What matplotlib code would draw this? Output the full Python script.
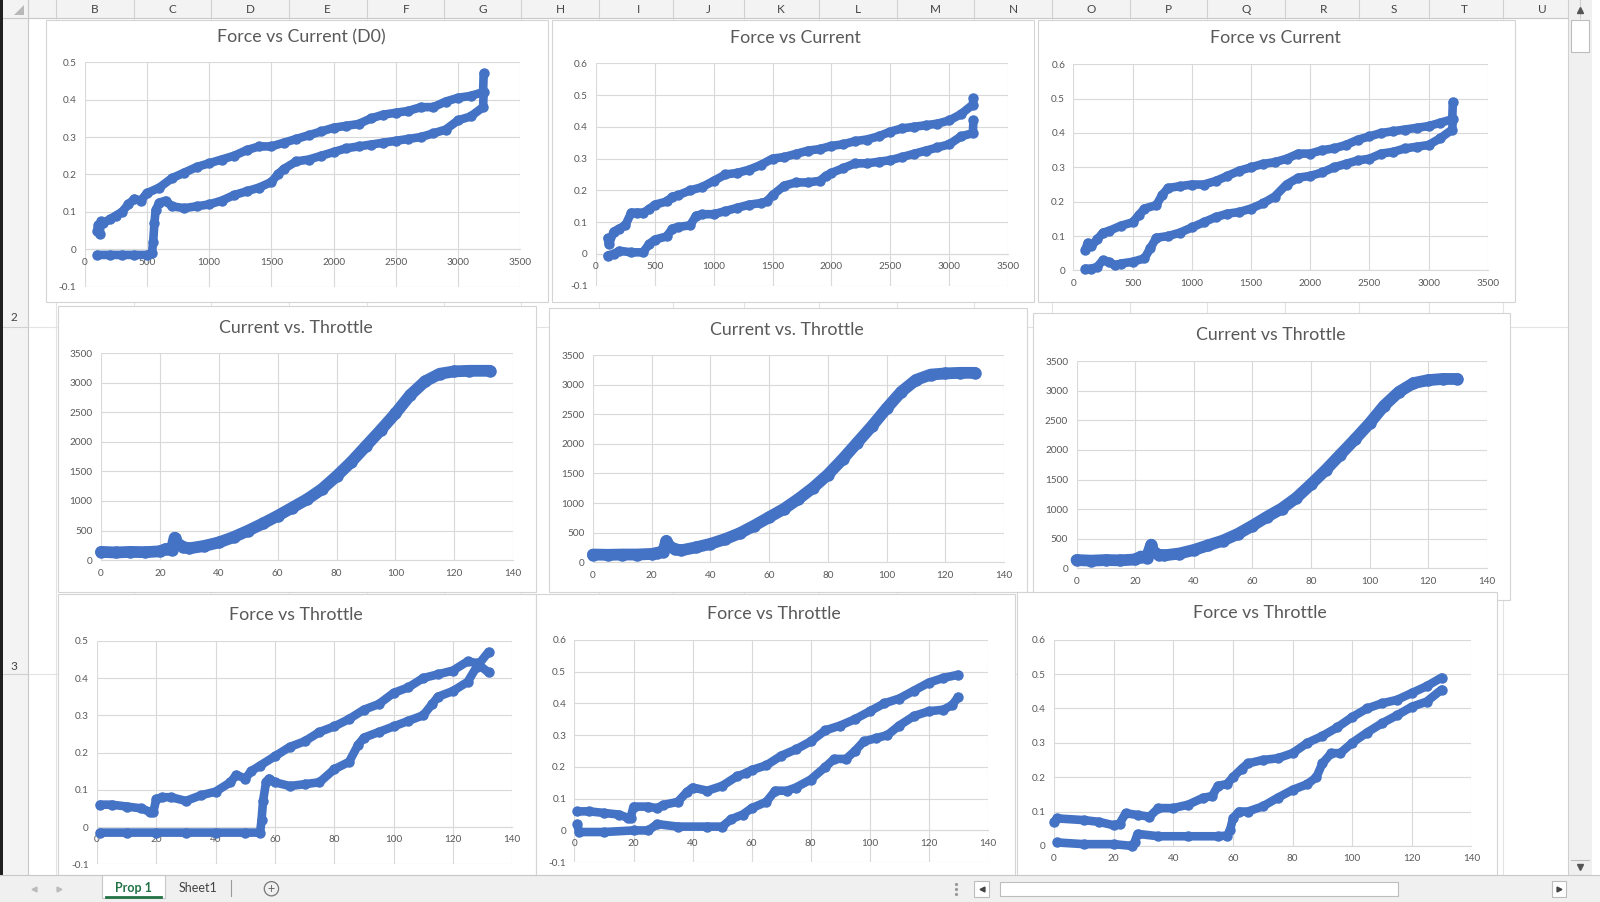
import numpy as np
import matplotlib.pyplot as plt
from matplotlib.patches import Rectangle, Circle, Polygon

plt.rcParams['font.family'] = ['Lato', 'DejaVu Sans']

# screen size; everything below is placed in this frame
W, H = 1568, 884

# ---- Force vs Current (D0) ----
fc1_up_x = [100, 110, 120, 130, 150, 200, 250, 300, 350, 400, 450, 500, 600, 700, 800, 900, 1000, 1100, 1200, 1300,
            1400, 1500, 1600, 1700, 1800, 1900, 2000, 2100, 2200, 2300, 2400, 2500, 2600, 2700, 2800, 2900, 3000, 3100,
            3200, 3205]
fc1_up_y = [0.05, 0.065, 0.04, 0.075, 0.07, 0.08, 0.09, 0.1, 0.12, 0.135, 0.13, 0.15, 0.165, 0.19, 0.205, 0.22, 0.23,
            0.24, 0.25, 0.265, 0.275, 0.275, 0.285, 0.295, 0.305, 0.315, 0.325, 0.33, 0.335, 0.35, 0.36, 0.365, 0.37,
            0.38, 0.38, 0.395, 0.405, 0.41, 0.42, 0.47]
fc1_lo_x = [100, 200, 300, 400, 500, 540, 550, 560, 570, 600, 650, 700, 800, 900, 1000, 1100, 1200, 1300, 1400, 1500,
            1550, 1600, 1700, 1800, 1900, 2000, 2100, 2200, 2300, 2400, 2500, 2600, 2700, 2800, 2900, 3000, 3100, 3200,
            3205]
fc1_lo_y = [-0.015, -0.015, -0.015, -0.015, -0.015, -0.01, 0.02, 0.07, 0.105, 0.125, 0.13, 0.115, 0.11, 0.115, 0.12,
            0.13, 0.145, 0.155, 0.165, 0.18, 0.2, 0.215, 0.235, 0.24, 0.25, 0.26, 0.27, 0.275, 0.28, 0.285, 0.29, 0.295,
            0.3, 0.31, 0.32, 0.345, 0.355, 0.38, 0.42]

# ---- Force vs Current (middle) ----
fc2_up_x = [100, 110, 150, 200, 250, 300, 350, 400, 450, 500, 600, 650, 700, 800, 900, 1000, 1100, 1200, 1300, 1400,
            1500, 1600, 1700, 1800, 1900, 2000, 2100, 2200, 2300, 2400, 2500, 2600, 2700, 2800, 2900, 3000, 3100, 3200,
            3205]
fc2_up_y = [0.05, 0.03, 0.07, 0.08, 0.09, 0.13, 0.13, 0.13, 0.14, 0.155, 0.165, 0.18, 0.185, 0.2, 0.21, 0.23, 0.25,
            0.255, 0.265, 0.28, 0.3, 0.305, 0.315, 0.325, 0.33, 0.34, 0.345, 0.355, 0.36, 0.37, 0.385, 0.395, 0.4,
            0.405, 0.41, 0.42, 0.44, 0.47, 0.49]
fc2_lo_x = [100, 150, 200, 300, 400, 450, 500, 600, 650, 700, 800, 850, 900, 1000, 1100, 1200, 1300, 1400, 1450, 1500,
            1600, 1700, 1800, 1900, 1950, 2000, 2100, 2200, 2300, 2400, 2500, 2600, 2700, 2800, 2900, 3000, 3100, 3200,
            3205]
fc2_lo_y = [-0.005, 0.0, 0.01, 0.005, 0.005, 0.03, 0.045, 0.055, 0.08, 0.085, 0.09, 0.12, 0.125, 0.125, 0.135, 0.145,
            0.155, 0.16, 0.165, 0.185, 0.215, 0.225, 0.225, 0.23, 0.245, 0.255, 0.27, 0.285, 0.285, 0.29, 0.295, 0.305,
            0.315, 0.325, 0.335, 0.345, 0.37, 0.38, 0.42]

# ---- Force vs Current (right) ----
fc3_up_x = [100, 120, 150, 200, 250, 300, 400, 500, 550, 600, 700, 750, 800, 900, 1000, 1100, 1200, 1300, 1400, 1500,
            1600, 1700, 1800, 1900, 2000, 2100, 2200, 2300, 2400, 2500, 2600, 2700, 2800, 2900, 3000, 3100, 3200, 3205]
fc3_up_y = [0.06, 0.08, 0.07, 0.09, 0.11, 0.115, 0.13, 0.14, 0.16, 0.18, 0.19, 0.22, 0.24, 0.245, 0.25, 0.25, 0.26,
            0.275, 0.29, 0.3, 0.31, 0.315, 0.325, 0.34, 0.34, 0.35, 0.355, 0.365, 0.38, 0.39, 0.4, 0.405, 0.41, 0.415,
            0.42, 0.43, 0.44, 0.49]
fc3_lo_x = [100, 150, 200, 250, 300, 350, 400, 500, 600, 650, 700, 800, 900, 1000, 1100, 1200, 1300, 1400, 1500, 1600,
            1700, 1800, 1900, 2000, 2100, 2200, 2300, 2400, 2500, 2600, 2700, 2800, 2900, 3000, 3100, 3200, 3205]
fc3_lo_y = [0.005, 0.005, 0.01, 0.03, 0.025, 0.015, 0.02, 0.025, 0.035, 0.065, 0.095, 0.1, 0.11, 0.125, 0.14, 0.155,
            0.165, 0.17, 0.18, 0.195, 0.215, 0.25, 0.27, 0.275, 0.285, 0.3, 0.31, 0.32, 0.325, 0.34, 0.345, 0.355, 0.36,
            0.365, 0.385, 0.41, 0.44]

# ---- Current vs Throttle ----
ct1_x = [0, 5, 10, 15, 20, 22, 24, 25, 26, 28, 30, 35, 40, 45, 50, 55, 60, 65, 70, 75, 80, 85, 90, 95, 100, 105, 110,
         115, 120, 125, 132]
ct1_y = [140, 130, 140, 135, 150, 190, 170, 380, 280, 220, 200, 240, 300, 390, 500, 620, 750, 890, 1030, 1200, 1420,
         1660, 1930, 2200, 2480, 2790, 3020, 3150, 3190, 3200, 3200]
ct2_x = [0, 5, 10, 15, 20, 22, 24, 25, 26, 28, 30, 35, 40, 45, 50, 55, 60, 65, 70, 75, 80, 85, 90, 95, 100, 105, 110,
         115, 120, 125, 130]
ct2_y = [130, 125, 130, 130, 140, 160, 180, 360, 270, 220, 200, 250, 310, 390, 490, 620, 760, 900, 1070, 1260, 1480,
         1740, 2020, 2300, 2600, 2880, 3080, 3170, 3190, 3200, 3200]
ct3_x = [0, 5, 10, 15, 20, 22, 24, 25.5, 26, 28, 30, 35, 40, 45, 50, 55, 60, 65, 70, 75, 80, 85, 90, 95, 100, 105, 110,
         115, 120, 125, 130]
ct3_y = [140, 130, 140, 135, 150, 200, 180, 400, 290, 230, 220, 250, 310, 390, 470, 580, 720, 870, 1010, 1190, 1420,
         1660, 1920, 2180, 2450, 2750, 2980, 3130, 3180, 3200, 3200]

# ---- Force vs Throttle ----
ft1_up_x = [1, 5, 10, 15, 18, 19, 20, 22, 25, 30, 35, 40, 45, 47, 50, 52, 55, 60, 65, 70, 75, 80, 85, 90, 95, 100, 105,
            110, 115, 120, 125, 128, 132]
ft1_up_y = [0.06, 0.06, 0.055, 0.05, 0.04, 0.04, 0.075, 0.08, 0.08, 0.07, 0.085, 0.095, 0.12, 0.14, 0.13, 0.15, 0.165,
            0.19, 0.215, 0.23, 0.255, 0.27, 0.29, 0.315, 0.33, 0.36, 0.375, 0.4, 0.41, 0.42, 0.445, 0.44, 0.415]
ft1_lo_x = [1, 10, 20, 30, 40, 50, 55, 55.5, 56, 57, 58, 60, 65, 70, 75, 80, 85, 88, 90, 95, 100, 105, 110, 113, 115,
            120, 125, 128, 132]
ft1_lo_y = [-0.015, -0.015, -0.015, -0.015, -0.015, -0.015, -0.015, 0.02, 0.07, 0.12, 0.13, 0.12, 0.11, 0.115, 0.12,
            0.155, 0.175, 0.22, 0.24, 0.255, 0.27, 0.285, 0.3, 0.33, 0.35, 0.365, 0.39, 0.43, 0.47]
ft2_up_x = [1, 5, 10, 15, 18, 19, 20, 25, 28, 30, 35, 38, 40, 45, 50, 55, 58, 60, 65, 70, 75, 80, 85, 90, 95, 100, 105,
            110, 115, 120, 125, 130]
ft2_up_y = [0.06, 0.06, 0.055, 0.05, 0.04, 0.04, 0.075, 0.075, 0.07, 0.08, 0.09, 0.12, 0.135, 0.125, 0.14, 0.17, 0.18,
            0.19, 0.205, 0.235, 0.255, 0.28, 0.315, 0.33, 0.35, 0.375, 0.4, 0.415, 0.44, 0.465, 0.48, 0.49]
ft2_lo_x = [1, 1.5, 10, 20, 25, 28, 35, 45, 50, 53, 57, 60, 65, 68, 72, 75, 80, 85, 88, 92, 95, 98, 102, 106, 110, 115,
            120, 125, 128, 130]
ft2_lo_y = [0.02, -0.005, -0.005, 0.0, 0.0, 0.02, 0.012, 0.012, 0.012, 0.035, 0.05, 0.07, 0.09, 0.125, 0.125, 0.135,
            0.16, 0.2, 0.225, 0.225, 0.25, 0.28, 0.29, 0.3, 0.33, 0.36, 0.375, 0.38, 0.395, 0.42]
ft3_up_x = [0, 1, 10, 15, 20, 22, 24, 28, 32, 35, 40, 45, 50, 53, 55, 58, 60, 63, 65, 70, 75, 80, 85, 90, 95, 100, 105,
            110, 115, 120, 125, 130]
ft3_up_y = [0.07, 0.08, 0.075, 0.07, 0.06, 0.065, 0.095, 0.09, 0.085, 0.11, 0.11, 0.12, 0.14, 0.145, 0.175, 0.18, 0.2,
            0.225, 0.24, 0.25, 0.255, 0.27, 0.3, 0.32, 0.345, 0.375, 0.4, 0.415, 0.425, 0.445, 0.465, 0.49]
ft3_lo_x = [1, 10, 20, 26, 27, 28, 35, 45, 55, 58, 59, 60, 62, 65, 70, 75, 80, 85, 88, 90, 93, 96, 100, 105, 110, 115,
            120, 125, 130]
ft3_lo_y = [0.01, 0.005, 0.005, 0.0, 0.01, 0.035, 0.028, 0.028, 0.028, 0.03, 0.045, 0.08, 0.1, 0.1, 0.115, 0.14, 0.163,
            0.18, 0.2, 0.24, 0.27, 0.27, 0.3, 0.33, 0.357, 0.38, 0.405, 0.42, 0.455]

col_letters = list('BCDEFGHIJKLMNOPQRSTU')
col_centers = [93, 169, 245, 321, 398, 473, 549, 626, 694, 765, 841, 917, 993, 1069, 1145, 1221, 1297, 1366, 1435, 1511]

BLUE = '#4472C4'
GRID = '#d9d9d9'
TXT = '#595959'

fig = plt.figure(figsize=(16, 9.02), dpi=100)
fig.patch.set_facecolor('white')
bg = fig.add_axes([0, 0, 1, 1])
bg.set_xlim(0, W)
bg.set_ylim(H, 0)
bg.axis('off')


def rect(x0, y0, x1, y1, fc, ec='none', lw=0.8, z=1):
    bg.add_patch(Rectangle((x0, y0), x1 - x0, y1 - y0, facecolor=fc, edgecolor=ec, lw=lw, zorder=z))


# sheet gridlines
bounds = [55] + [(a + b) / 2 for a, b in zip(col_centers[:-1], col_centers[1:])] + [1548]
for bx in bounds:
    bg.plot([bx, bx], [18, 858], color='#e3e3e3', lw=0.8, zorder=0.5)
for ry in [320, 661]:
    bg.plot([27, 1537], [ry, ry], color='#e3e3e3', lw=0.8, zorder=0.5)

# column header
rect(0, 0, 1537, 18, '#f3f3f3', z=2)
bg.plot([0, 1537], [18, 18], color='#c8c8c8', lw=0.8, zorder=3)
for bx in bounds:
    bg.plot([bx, bx], [0, 18], color='#d0d0d0', lw=0.8, zorder=3)
for letter, cx in zip(col_letters, col_centers):
    bg.text(cx, 9.5, letter, ha='center', va='center', fontsize=8.5, color='#444444', zorder=4)
bg.add_patch(Polygon([[24, 5], [24, 15], [14, 15]], closed=True, facecolor='#b8b8b8', edgecolor='none', zorder=4))

# row header
rect(0, 18, 27, 858, '#f3f3f3', z=2)
bg.plot([27, 27], [0, 858], color='#c8c8c8', lw=0.8, zorder=3)
for ry, lab, ly in [(320, '2', 311), (661, '3', 653)]:
    bg.plot([0, 27], [ry, ry], color='#d0d0d0', lw=0.8, zorder=3)
    bg.text(14, ly, lab, ha='center', va='center', fontsize=8.5, color='#444444', zorder=4)
rect(0, 0, 2.5, H, '#202020', z=5)

# vertical scrollbar
rect(1537, 0, 1560, 858, '#f0f0f0', z=2)
bg.plot([1537, 1537], [0, 858], color='#d0d0d0', lw=0.8, zorder=3)
rect(1540, 20, 1557, 51, 'white', ec='#bdbdbd', z=3)
bg.plot(1548.5, 10, marker='^', ms=4, color='#555555', zorder=4)
bg.plot(1548.5, 850, marker='v', ms=4, color='#555555', zorder=4)
bg.plot([1540, 1557], [843, 843], color='#bdbdbd', lw=0.8, zorder=3)

# chart layouts: (box, plot area, title position)
layout = [
    ((45, 20, 537, 296), (83, 61, 510, 281), (295, 37)),
    ((541, 20, 1013, 296), (584, 62, 988, 280), (780, 37)),
    ((1017, 20, 1485, 296), (1052, 63, 1458, 265), (1250, 37)),
    ((57, 300, 525, 580), (99, 346, 503, 549), (290, 321)),
    ((538, 302, 1006, 580), (581, 348, 984, 551), (771, 323)),
    ((1012, 307, 1480, 588), (1055, 354, 1457, 557), (1245, 328)),
    ((57, 582, 525, 858), (95, 628, 502, 847), (290, 603)),
    ((525, 582, 995, 858), (563, 627, 968, 845), (758, 602)),
    ((997, 580, 1467, 858), (1033, 627, 1442, 829), (1235, 601)),
]

charts = [
    ('Force vs Current (D0)', 3500, 500, -0.1, 0.5, 0.1, [(fc1_up_x, fc1_up_y), (fc1_lo_x, fc1_lo_y)]),
    ('Force vs Current', 3500, 500, -0.1, 0.6, 0.1, [(fc2_up_x, fc2_up_y), (fc2_lo_x, fc2_lo_y)]),
    ('Force vs Current', 3500, 500, 0, 0.6, 0.1, [(fc3_up_x, fc3_up_y), (fc3_lo_x, fc3_lo_y)]),
    ('Current vs. Throttle', 140, 20, 0, 3500, 500, [(ct1_x, ct1_y)]),
    ('Current vs. Throttle', 140, 20, 0, 3500, 500, [(ct2_x, ct2_y)]),
    ('Current vs Throttle', 140, 20, 0, 3500, 500, [(ct3_x, ct3_y)]),
    ('Force vs Throttle', 140, 20, -0.1, 0.5, 0.1, [(ft1_up_x, ft1_up_y), (ft1_lo_x, ft1_lo_y)]),
    ('Force vs Throttle', 140, 20, -0.1, 0.6, 0.1, [(ft2_up_x, ft2_up_y), (ft2_lo_x, ft2_lo_y)]),
    ('Force vs Throttle', 140, 20, 0, 0.6, 0.1, [(ft3_up_x, ft3_up_y), (ft3_lo_x, ft3_lo_y)]),
]

for (bx, pa, tpos), (title, xmax, xstep, ymin, ymax, ystep, series) in zip(layout, charts):
    rect(bx[0], bx[1], bx[2], bx[3], 'white', ec='#d4d4d4', z=6)
    bg.text(tpos[0], tpos[1], title, ha='center', va='center', fontsize=12.8, color=TXT, zorder=7)

    ax = fig.add_axes([pa[0] / W, 1 - pa[3] / H, (pa[2] - pa[0]) / W, (pa[3] - pa[1]) / H])
    ax.set_facecolor('none')
    ax.set_xlim(0, xmax)
    ax.set_ylim(ymin, ymax)
    xt = np.arange(0, xmax + 1, xstep)
    yt = np.round(np.arange(ymin, ymax + ystep / 2, ystep), 3)
    ax.set_xticks(xt)
    ax.set_xticklabels(['{:g}'.format(v) for v in xt])
    ax.set_yticks(yt)
    ax.set_yticklabels(['{:g}'.format(v + 0.0) for v in yt])
    ax.grid(True, color=GRID, lw=0.8)
    ax.set_axisbelow(True)
    for s in ['top', 'right', 'left']:
        ax.spines[s].set_visible(False)
    ax.spines['bottom'].set_position(('data', 0))
    ax.spines['bottom'].set_color(GRID)
    ax.tick_params(length=0, labelsize=7.2, labelcolor=TXT)
    ax.tick_params(axis='x', pad=6)
    ax.tick_params(axis='y', pad=6)

    if ymax > 1000:
        lw, ms = 8.5, 8
    else:
        lw, ms = 6.2, 6.5
    for sx, sy in series:
        ax.plot(sx, sy, color=BLUE, lw=lw, marker='o', ms=ms, mec=BLUE,
                solid_joinstyle='round', solid_capstyle='round', clip_on=False, zorder=3)

# sheet tab bar (drawn last so it covers the bottom of the lowest charts)
tabs = fig.add_axes([0, 0, 1, 1], facecolor='none')
tabs.set_xlim(0, W)
tabs.set_ylim(H, 0)
tabs.axis('off')
tabs.add_patch(Rectangle((0, 858), W, H - 858, facecolor='#f0f0f0', edgecolor='none'))
tabs.plot([0, W], [858, 858], color='#c8c8c8', lw=0.8)
tabs.add_patch(Rectangle((100, 858), 62, 22, facecolor='white', edgecolor='#c8c8c8', lw=0.8))
tabs.plot([104, 158], [879, 879], color='#217346', lw=2)
tabs.text(131, 870, 'Prop 1', ha='center', va='center', fontsize=9, fontweight='bold', color='#217346')
tabs.text(194, 870, 'Sheet1', ha='center', va='center', fontsize=9, color='#444444')
tabs.plot([226, 226], [862, 878], color='#9a9a9a', lw=0.8)
tabs.add_patch(Circle((266, 871), 7, facecolor='none', edgecolor='#777777', lw=0.9))
tabs.text(266, 871, '+', ha='center', va='center', fontsize=9, color='#666666')
tabs.plot(33, 871, marker='<', ms=3.5, color='#bbbbbb')
tabs.plot(58, 871, marker='>', ms=3.5, color='#bbbbbb')
tabs.plot([937, 937, 937], [866, 871, 876], 'o', ms=1.3, color='#999999')
tabs.add_patch(Rectangle((955, 863), 14, 16, facecolor='white', edgecolor='#bdbdbd', lw=0.8))
tabs.plot(962, 871, marker='<', ms=3.5, color='#444444')
tabs.add_patch(Rectangle((980, 864), 390, 14, facecolor='white', edgecolor='#bdbdbd', lw=0.8))
tabs.add_patch(Rectangle((1521, 863), 14, 16, facecolor='white', edgecolor='#bdbdbd', lw=0.8))
tabs.plot(1528, 871, marker='>', ms=3.5, color='#444444')

fig.savefig('out.png', dpi=100)
